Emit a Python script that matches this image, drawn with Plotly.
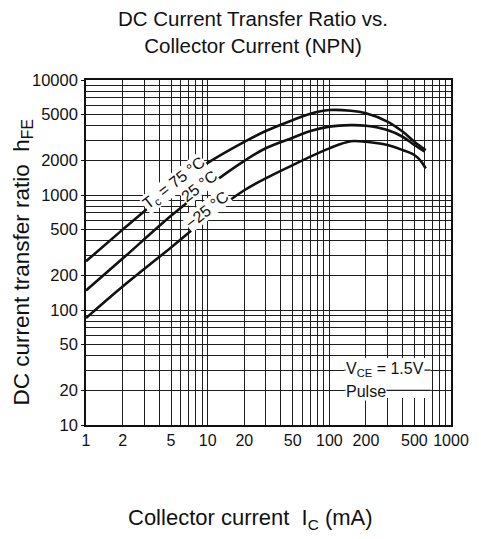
import plotly.graph_objects as go

# ---- data ----
x_ticks = [1, 2, 5, 10, 20, 50, 100, 200, 500, 1000]
y_ticks = [10, 20, 50, 100, 200, 500, 1000, 2000, 5000, 10000]

ic_75 = [1, 2, 3, 5, 10, 20, 30, 50, 70, 100, 150, 200, 300, 400, 500, 620]
hfe_75 = [265, 500, 720, 1120, 1900, 2900, 3600, 4480, 5100, 5480, 5400, 5130, 4350, 3560, 2910, 2460]

ic_25 = [1, 2, 5, 10, 20, 30, 50, 70, 100, 150, 200, 300, 400, 500, 610]
hfe_25 = [148, 280, 660, 1180, 1980, 2550, 3150, 3600, 3930, 4050, 4000, 3670, 3210, 2720, 2380]

ic_m25 = [1, 2, 5, 10, 20, 50, 100, 150, 200, 300, 400, 500, 570, 620]
hfe_m25 = [85, 160, 350, 640, 1100, 1820, 2545, 2930, 2900, 2720, 2460, 2226, 1950, 1700]

# ---- styling ----
INK = "#111111"
GRID = "#1e1e1e"
FONT = "Liberation Sans, Arial, sans-serif"

fig = go.Figure()
for xs, ys in [(ic_75, hfe_75), (ic_25, hfe_25), (ic_m25, hfe_m25)]:
    fig.add_trace(go.Scatter(x=xs, y=ys, mode="lines",
                             line=dict(color=INK, width=2.6, shape="spline", smoothing=1.0),
                             showlegend=False, hoverinfo="skip"))

axis_common = dict(type="log", showline=True, linecolor=INK, linewidth=1.6, mirror=True,
                   showgrid=True, gridcolor=GRID, gridwidth=1.3,
                   tickcolor=INK, zeroline=False,
                   minor=dict(dtick="D1", showgrid=True, gridcolor=GRID, gridwidth=1.3, ticks=""))

fig.update_xaxes(range=[0, 3], tickvals=x_ticks, ticktext=[str(v) for v in x_ticks],
                 ticks="", tickfont=dict(family=FONT, size=16, color=INK), **axis_common)
fig.update_yaxes(range=[1, 4], tickvals=y_ticks, ticktext=[str(v) for v in y_ticks],
                 ticks="outside", ticklen=3,
                 tickfont=dict(family=FONT, size=16.5, color=INK), **axis_common)

# white box behind the test-condition note (covers the grid), with the 20/30 grid lines redrawn
fig.add_shape(type="rect", xref="x", yref="y", x0=133, x1=680, y0=17.2, y1=38.3,
              fillcolor="white", line=dict(width=0), layer="between")
for yv in [20, 30]:
    fig.add_shape(type="line", xref="x", yref="y", x0=133, x1=680, y0=yv, y1=yv,
                  line=dict(color=GRID, width=1.3), layer="between")

annots = [
    dict(text="DC Current Transfer Ratio vs.<br>Collector Current (NPN)", x=0.457, y=1.139,
         size=20.5),
    dict(text="DC current transfer ratio\u00a0\u00a0h<sub>FE</sub>", x=-0.174, y=0.4725,
         textangle=-90, size=22.5),
    dict(text="Collector current\u00a0\u00a0I<sub>C</sub> (mA)", x=0.452, y=-0.2725, size=22),
]
for a in annots:
    fig.add_annotation(xref="paper", yref="paper", x=a["x"], y=a["y"], text=a["text"],
                       showarrow=False, textangle=a.get("textangle", 0),
                       xanchor="center", yanchor="middle", align="center",
                       font=dict(family=FONT, size=a["size"], color=INK))

# curve labels
curve_labels = [
    ("T<sub>c</sub> = 75 °C", 0.724, 3.104),
    ("25 °C", 0.925, 3.078),
    ("−25 °C", 0.998, 2.874),
]
for txt, lx, ly in curve_labels:
    fig.add_annotation(xref="x", yref="y", x=lx, y=ly, text=txt, showarrow=False,
                       textangle=-38, bgcolor="white", borderpad=0,
                       font=dict(family=FONT, size=16, color=INK))

# test conditions
fig.add_annotation(xref="x", yref="y", x=2.125, y=1.485, xanchor="left", yanchor="middle",
                   text="V<sub>CE</sub> = 1.5V", showarrow=False, bgcolor="white", borderpad=0,
                   font=dict(family=FONT, size=16, color=INK))
fig.add_annotation(xref="x", yref="y", x=2.125, y=1.29, xanchor="left", yanchor="middle",
                   text="Pulse", showarrow=False, bgcolor="white", borderpad=0,
                   font=dict(family=FONT, size=16, color=INK))

# the page body adds an 8 px margin, so the figure is 8 px smaller than the window
fig.update_layout(width=473, height=531, margin=dict(l=78, r=22, t=72, b=114),
                  paper_bgcolor="white", plot_bgcolor="white", showlegend=False)

fig.write_html("out.html")
